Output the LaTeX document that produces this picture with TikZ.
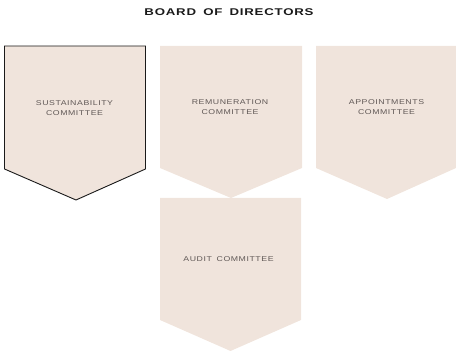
\documentclass[tikz,border=0pt]{standalone}
\usepackage{fontspec}
\setmainfont{Liberation Sans}
\newfontfamily\titlefont[FakeStretch=1.35,LetterSpace=8,WordSpace=1.6]{Liberation Sans}
\newfontfamily\labelfont[FakeStretch=1.25,LetterSpace=8,WordSpace=1.6]{Liberation Sans}
\definecolor{panel}{RGB}{240,228,220}
\definecolor{labelgray}{RGB}{96,88,86}
\definecolor{titleink}{RGB}{26,26,26}
\begin{document}
\begin{tikzpicture}[x=1pt,y=-1pt,
  panelshape/.style={fill=panel,draw=none},
  outlined/.style={fill=panel,draw=titleink,line width=0.9pt,line join=miter},
  label/.style={font=\labelfont\fontsize{7}{10.5}\selectfont,text=labelgray,align=center,inner sep=0pt},
  heading/.style={font=\titlefont\bfseries\fontsize{9.8}{12}\selectfont,text=titleink,inner sep=0pt}]
\useasboundingbox (0,0) rectangle (456,352);

% committee panels: rectangle with a chevron point at the bottom
\path[panelshape] (160,46) -- (302,46) -- (302,168) -- (231,198) -- (160,168) -- cycle;
\path[panelshape] (316,46) -- (456,46) -- (456,168) -- (387,199) -- (316,168) -- cycle;
\path[panelshape] (160,198) -- (301,198) -- (301,320) -- (230.5,351) -- (160,320) -- cycle;
\path[outlined] (4.5,46) -- (145.5,46) -- (145.5,169) -- (76,200) -- (4.5,169) -- cycle;

% labels
\node[heading] (board) at (229,12.5) {BOARD OF DIRECTORS};
\node[label] (sust) at (74.5,108) {SUSTAINABILITY\\COMMITTEE};
\node[label] (remu) at (230,107) {REMUNERATION\\COMMITTEE};
\node[label] (appt) at (386.5,107) {APPOINTMENTS\\COMMITTEE};
\node[label] (audit) at (228.5,259) {AUDIT COMMITTEE};
\end{tikzpicture}
\end{document}
